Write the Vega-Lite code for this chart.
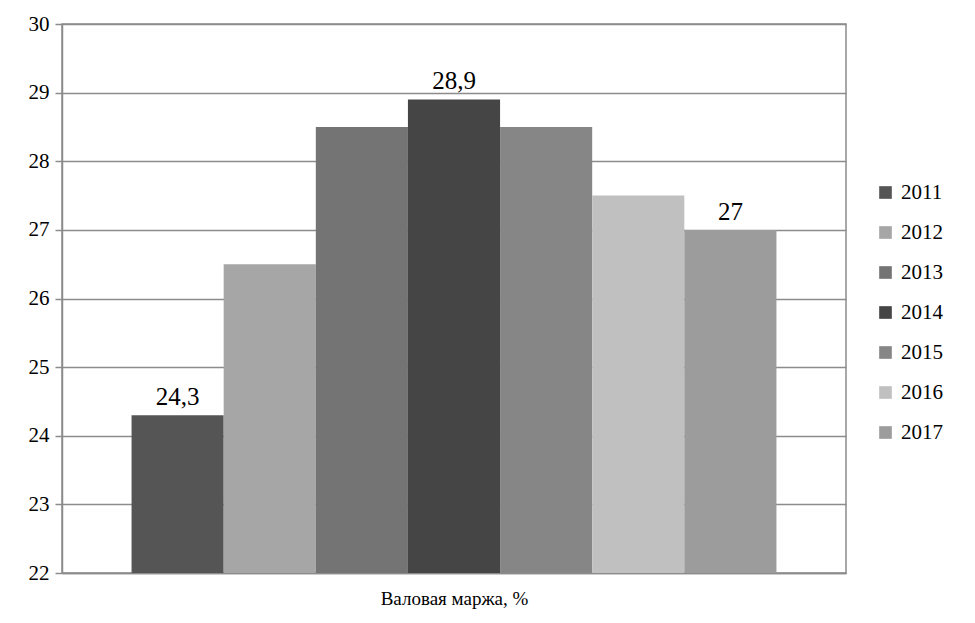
{
  "$schema": "https://vega.github.io/schema/vega-lite/v6.json",
  "autosize": "none",
  "width": 784,
  "height": 549,
  "padding": {"left": 62, "top": 24, "right": 129, "bottom": 50},
  "background": "white",
  "config": {
    "font": "Liberation Serif",
    "view": {"stroke": "#8c8c8c", "strokeWidth": 1.5}
  },
  "data": {
    "values": [
      {"year": "2011", "value": 24.3, "label": "24,3"},
      {"year": "2012", "value": 26.5, "label": null},
      {"year": "2013", "value": 28.5, "label": null},
      {"year": "2014", "value": 28.9, "label": "28,9"},
      {"year": "2015", "value": 28.5, "label": null},
      {"year": "2016", "value": 27.5, "label": null},
      {"year": "2017", "value": 27, "label": "27"}
    ]
  },
  "encoding": {
    "x": {
      "field": "year",
      "type": "nominal",
      "scale": {"paddingInner": 0, "paddingOuter": 0.755},
      "axis": {
        "labels": false,
        "ticks": false,
        "domainColor": "#8c8c8c",
        "domainWidth": 1.5,
        "title": "Валовая маржа, %",
        "titleFont": "Liberation Serif",
        "titleFontSize": 19,
        "titleFontWeight": "normal",
        "titleColor": "black",
        "titlePadding": 16
      }
    },
    "y": {
      "field": "value",
      "type": "quantitative",
      "scale": {"domain": [22, 30], "nice": false, "zero": false},
      "axis": {
        "values": [22, 23, 24, 25, 26, 27, 28, 29, 30],
        "title": null,
        "grid": true,
        "gridColor": "#8c8c8c",
        "gridWidth": 1.5,
        "domainColor": "#8c8c8c",
        "domainWidth": 1.5,
        "tickColor": "#8c8c8c",
        "tickWidth": 1.5,
        "tickSize": 7,
        "labelFont": "Liberation Serif",
        "labelFontSize": 21,
        "labelColor": "black",
        "labelPadding": 6
      }
    }
  },
  "layer": [
    {
      "mark": {"type": "bar", "clip": true},
      "encoding": {
        "y2": {"datum": 22},
        "color": {
          "field": "year",
          "type": "nominal",
          "scale": {
            "domain": ["2011", "2012", "2013", "2014", "2015", "2016", "2017"],
            "range": ["#555555", "#a6a6a6", "#747474", "#454545", "#868686", "#c0c0c0", "#9c9c9c"]
          },
          "legend": {
            "title": null,
            "orient": "none",
            "legendX": 813,
            "legendY": 158,
            "symbolType": "square",
            "symbolSize": 160,
            "symbolStrokeWidth": 0,
            "labelFont": "Liberation Serif",
            "labelFontSize": 21,
            "labelColor": "black",
            "labelOffset": 5,
            "rowPadding": 18
          }
        }
      }
    },
    {
      "transform": [{"filter": "datum.label != null"}],
      "mark": {"type": "text", "baseline": "alphabetic", "dy": -10, "fontSize": 25, "font": "Liberation Serif", "color": "black"},
      "encoding": {"text": {"field": "label"}}
    }
  ]
}
